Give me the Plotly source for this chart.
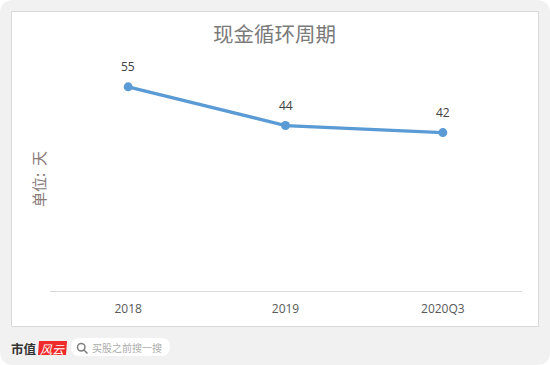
import plotly.graph_objects as go

categories = ["2018", "2019", "2020Q3"]
values = [55, 44, 42]
title_text = "现金循环周期"
unit_text = "单位:  天"
W, H = 550, 365
CJK = "Noto Sans CJK SC"
LAT = "'Open Sans', 'Noto Sans CJK SC'"


def px(x):
    return x / W


def py(y):
    return 1 - y / H


fig = go.Figure(
    go.Scatter(
        x=categories,
        y=values,
        mode="lines+markers",
        line=dict(color="#5B9BD5", width=3.25),
        marker=dict(color="#5B9BD5", size=9),
        cliponaxis=False,
        hoverinfo="skip",
        showlegend=False,
    )
)

shapes = [
    dict(type="path", xref="paper", yref="paper", layer="below",
         path=f"M {px(0)},{py(14)} Q {px(0)},{py(0)} {px(14)},{py(0)} L {px(536)},{py(0)} Q {px(550)},{py(0)} {px(550)},{py(14)} "
              f"L {px(550)},{py(351)} Q {px(550)},{py(365)} {px(536)},{py(365)} L {px(14)},{py(365)} Q {px(0)},{py(365)} {px(0)},{py(351)} Z",
         fillcolor="#F1F1F1", line=dict(width=0)),
    dict(type="rect", xref="paper", yref="paper", layer="below",
         x0=px(11.5), x1=px(538.5), y0=py(326.5), y1=py(11.5),
         fillcolor="#FFFFFF", line=dict(color="#D9D9D9", width=1)),
    dict(type="path", xref="paper", yref="paper", layer="below",
         path=f"M {px(39)},{py(341)} L {px(67)},{py(341)} L {px(66)},{py(355)} L {px(38)},{py(355)} Z",
         fillcolor="#EE2A2A", line=dict(width=0)),
    dict(type="path", xref="paper", yref="paper", layer="below",
         path=f"M {px(80)},{py(338)} L {px(161)},{py(338)} Q {px(170)},{py(338)} {px(170)},{py(347)} Q {px(170)},{py(356)} {px(161)},{py(356)} "
              f"L {px(80)},{py(356)} Q {px(71)},{py(356)} {px(71)},{py(347)} Q {px(71)},{py(338)} {px(80)},{py(338)} Z",
         fillcolor="#FFFFFF", line=dict(width=0)),
    dict(type="circle", xref="paper", yref="paper", layer="below",
         x0=px(77.5), x1=px(85), y0=py(351), y1=py(343.5),
         fillcolor="rgba(0,0,0,0)", line=dict(color="#7F7F7F", width=1.5)),
    dict(type="line", xref="paper", yref="paper", layer="below",
         x0=px(84), x1=px(87.5), y0=py(350), y1=py(353.5),
         line=dict(color="#7F7F7F", width=1.5)),
]


def note(x, y, text, size, color, family=CJK, **kw):
    return dict(xref="paper", yref="paper", x=px(x), y=py(y), text=text, showarrow=False,
                xanchor="center", yanchor="middle",
                font=dict(family=family, size=size, color=color), **kw)


annotations = [
    note(274, 33, title_text, 20.5, "#7A7A7A"),
    note(38, 179, unit_text, 15, "#8A7A7A", textangle=-90),
    note(24, 348, "<b>市值</b>", 12.5, "#333333"),
    note(52.5, 348, "<i>风云</i>", 12, "#FFFFFF"),
    note(127, 347, "买股之前搜一搜", 10, "#ABABAB"),
]
for i, v in enumerate(values):
    annotations.append(dict(xref="x", yref="y", x=i, y=v, text=str(v), showarrow=False,
                            yanchor="middle", xanchor="center", yshift=20,
                            font=dict(family=LAT, size=12, color="#404040")))

fig.update_layout(
    width=W,
    height=H,
    margin=dict(l=0, r=0, t=0, b=0),
    paper_bgcolor="#FFFFFF",
    plot_bgcolor="rgba(0,0,0,0)",
    shapes=shapes,
    annotations=annotations,
    xaxis=dict(
        domain=[px(49.5), px(521.5)],
        type="category",
        range=[-0.5, 2.5],
        showgrid=False,
        showline=True,
        linecolor="#D9D9D9",
        linewidth=1,
        ticks="outside",
        ticklen=7,
        tickcolor="rgba(0,0,0,0)",
        tickfont=dict(family=LAT, size=12, color="#595959"),
    ),
    yaxis=dict(
        domain=[py(291), py(40)],
        range=[-3, 68.3],
        visible=False,
    ),
)

fig.write_html("out.html", config={"displayModeBar": False},
               post_script="document.body.style.margin='0';")
